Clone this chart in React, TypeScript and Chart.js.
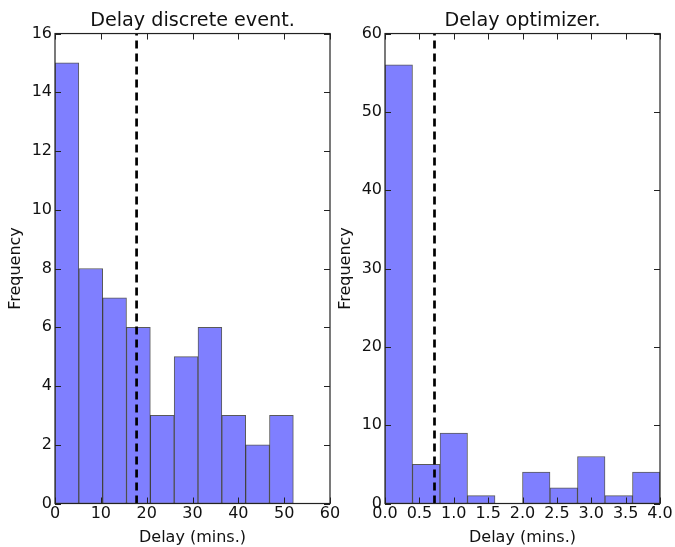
import React, { useEffect, useRef } from 'react';
import { Chart, registerables } from 'chart.js';

Chart.register(...registerables);

// ---- data: left panel ----
const leftTitle = 'Delay discrete event.';
const leftBinEdges = [0, 5.2, 10.4, 15.6, 20.8, 26, 31.2, 36.4, 41.6, 46.8, 52];
const leftCounts = [15, 8, 7, 6, 3, 5, 6, 3, 2, 3];
const leftMarker = 17.8;
const leftXTicks = [0, 10, 20, 30, 40, 50, 60];
const leftYTicks = [0, 2, 4, 6, 8, 10, 12, 14, 16];

// ---- data: right panel ----
const rightTitle = 'Delay optimizer.';
const rightBinEdges = [0, 0.4, 0.8, 1.2, 1.6, 2.0, 2.4, 2.8, 3.2, 3.6, 4.0];
const rightCounts = [56, 5, 9, 1, 0, 4, 2, 6, 1, 4];
const rightMarker = 0.72;
const rightXTicks = [0, 0.5, 1.0, 1.5, 2.0, 2.5, 3.0, 3.5, 4.0];
const rightYTicks = [0, 10, 20, 30, 40, 50, 60];

const xLabel = 'Delay (mins.)';
const yLabel = 'Frequency';

const FONT = 'DejaVu Sans';
const TEXT = '#111';

const framePlugin = {
  id: 'mplFrame',
  afterDatasetsDraw(chart: any, _args: any, opts: any) {
    const { ctx, chartArea } = chart;
    const { left, right, top, bottom } = chartArea;
    const xs = chart.scales.x;
    const ys = chart.scales.y;
    ctx.save();
    // dashed marker line
    const mx = xs.getPixelForValue(opts.marker);
    ctx.strokeStyle = '#000';
    ctx.lineWidth = 2.7;
    ctx.setLineDash([8, 5]);
    ctx.beginPath();
    ctx.moveTo(mx, bottom);
    ctx.lineTo(mx, top);
    ctx.stroke();
    ctx.setLineDash([]);
    // ticks inward on all four sides
    ctx.strokeStyle = '#222';
    ctx.lineWidth = 1;
    const tl = 6;
    ctx.beginPath();
    xs.ticks.forEach((t: any) => {
      const p = Math.round(xs.getPixelForValue(t.value)) + 0.5;
      ctx.moveTo(p, bottom);
      ctx.lineTo(p, bottom - tl);
      ctx.moveTo(p, top);
      ctx.lineTo(p, top + tl);
    });
    ys.ticks.forEach((t: any) => {
      const p = Math.round(ys.getPixelForValue(t.value)) + 0.5;
      ctx.moveTo(left, p);
      ctx.lineTo(left + tl, p);
      ctx.moveTo(right, p);
      ctx.lineTo(right - tl, p);
    });
    ctx.stroke();
    // frame
    ctx.strokeStyle = '#222';
    ctx.lineWidth = 1.2;
    ctx.strokeRect(left, top, right - left, bottom - top);
    ctx.restore();
  },
};

type PanelProps = {
  title: string;
  edges: number[];
  counts: number[];
  marker: number;
  xTicks: number[];
  yTicks: number[];
  xDecimals: number;
  left: number;
};

function Panel(props: PanelProps) {
  const ref = useRef<HTMLCanvasElement | null>(null);
  useEffect(() => {
    const { title, edges, counts, marker, xTicks, yTicks, xDecimals } = props;
    const data = counts.map((c, i) => ({ x: (edges[i] + edges[i + 1]) / 2, y: c }));
    const chart = new Chart(ref.current as HTMLCanvasElement, {
      type: 'bar',
      data: {
        datasets: [
          {
            data,
            backgroundColor: '#7f7fff',
            borderColor: 'rgba(0,0,0,0.65)',
            borderWidth: 1,
            borderSkipped: false,
            barPercentage: 1,
            categoryPercentage: 1,
            grouped: false,
          } as any,
        ],
      },
      options: {
        animation: false,
        responsive: false,
        maintainAspectRatio: false,
        layout: { padding: { left: 0, right: 15, top: 0, bottom: 0 } },
        plugins: {
          legend: { display: false },
          tooltip: { enabled: false },
          title: {
            display: true,
            text: title,
            fullSize: false,
            color: TEXT,
            font: { family: FONT, size: 19.2, weight: 'normal' },
            padding: { top: 9.5, bottom: 1 },
          },
          mplFrame: { marker },
        } as any,
        scales: {
          x: {
            type: 'linear',
            offset: false,
            min: xTicks[0],
            max: xTicks[xTicks.length - 1],
            afterBuildTicks: (s: any) => {
              s.ticks = xTicks.map((v) => ({ value: v }));
            },
            afterFit: (s: any) => {
              s.height = 43.5;
            },
            grid: { display: false, drawTicks: false, offset: false },
            border: { display: false },
            ticks: {
              color: TEXT,
              padding: 1,
              maxRotation: 0,
              autoSkip: false,
              font: { family: FONT, size: 16 },
              callback: (v: any) => Number(v).toFixed(xDecimals),
            },
            title: {
              display: true,
              text: xLabel,
              color: TEXT,
              font: { family: FONT, size: 16 },
              padding: { top: 0, bottom: 0 },
            },
          },
          y: {
            type: 'linear',
            min: yTicks[0],
            max: yTicks[yTicks.length - 1],
            afterBuildTicks: (s: any) => {
              s.ticks = yTicks.map((v) => ({ value: v }));
            },
            afterFit: (s: any) => {
              s.width = 55;
            },
            grid: { display: false, drawTicks: false },
            border: { display: false },
            ticks: {
              color: TEXT,
              padding: 3,
              autoSkip: false,
              font: { family: FONT, size: 16 },
              callback: (v: any) => String(v),
            },
            title: {
              display: true,
              text: yLabel,
              color: TEXT,
              font: { family: FONT, size: 16 },
              padding: { top: 6, bottom: 0 },
            },
          },
        },
      },
      plugins: [framePlugin as any],
    });
    return () => chart.destroy();
  }, []);
  return (
    <canvas
      ref={ref}
      width={345}
      height={547}
      style={{ position: 'absolute', left: props.left, top: 0, width: 345, height: 547 }}
    />
  );
}

export default function App() {
  return (
    <div style={{ position: 'fixed', left: 0, top: 0, width: 675, height: 547, background: '#fff' }}>
      <Panel
        title={leftTitle}
        edges={leftBinEdges}
        counts={leftCounts}
        marker={leftMarker}
        xTicks={leftXTicks}
        yTicks={leftYTicks}
        xDecimals={0}
        left={0}
      />
      <Panel
        title={rightTitle}
        edges={rightBinEdges}
        counts={rightCounts}
        marker={rightMarker}
        xTicks={rightXTicks}
        yTicks={rightYTicks}
        xDecimals={1}
        left={330}
      />
    </div>
  );
}
